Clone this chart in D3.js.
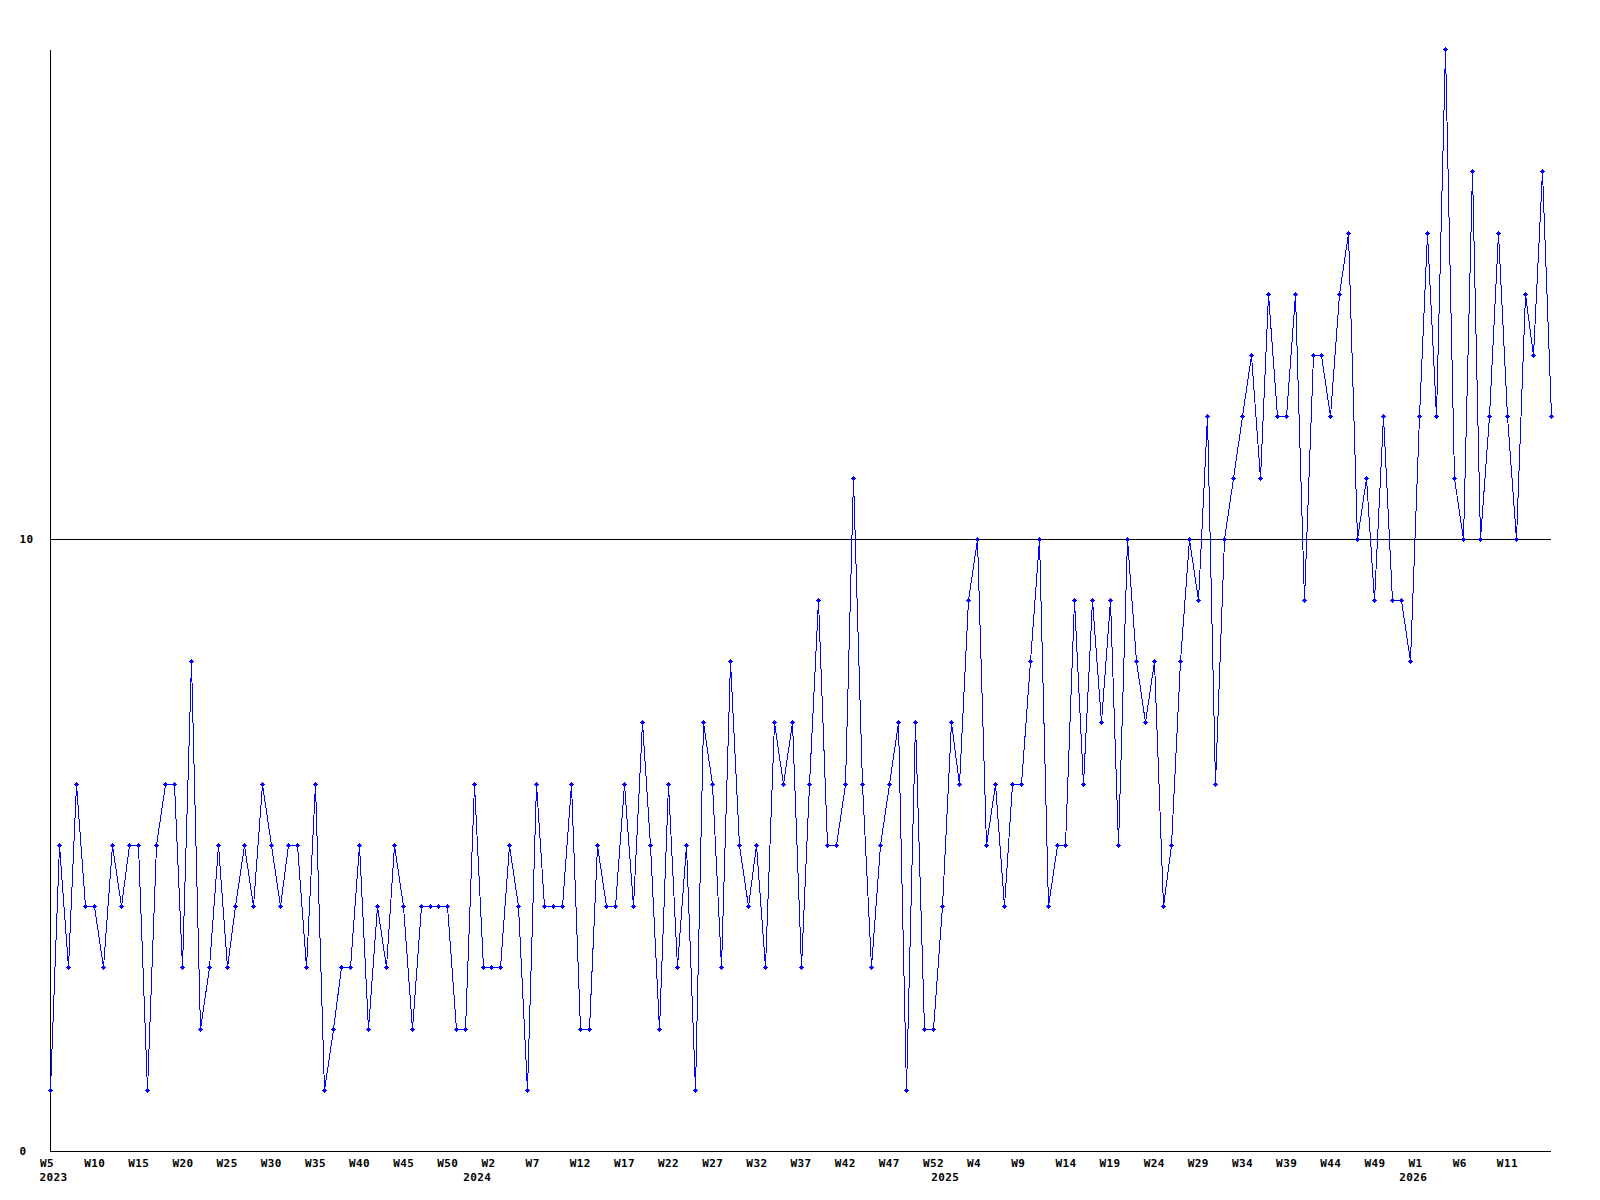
<!DOCTYPE html>
<html>
<head>
<meta charset="utf-8">
<script src="https://cdn.jsdelivr.net/npm/d3@7/dist/d3.min.js"></script>
<style>
  html, body { margin: 0; padding: 0; background: #ffffff; }
  svg { display: block; }
  .lbl { font-family: "DejaVu Sans Mono", "Liberation Mono", monospace; font-weight: bold; font-size: 11px; letter-spacing: 0.4px; fill: #000; }
</style>
</head>
<body>
<svg id="chart" width="1600" height="1200"></svg>
<script>
// ---- data ----
const years      = [2023, 2024, 2025, 2026];
const firstWeeks = [5, 0, 0, 0];
const lastWeeks  = [52, 52, 52, 16];

const values = [
  1, 5, 3, 6, 4, 4, 3, 5, 4, 5,
  5, 1, 5, 6, 6, 3, 8, 2, 3, 5,
  3, 4, 5, 4, 6, 5, 4, 5, 5, 3,
  6, 1, 2, 3, 3, 5, 2, 4, 3, 5,
  4, 2, 4, 4, 4, 4, 2, 2, 6, 3,
  3, 3, 5, 4, 1, 6, 4, 4, 4, 6,
  2, 2, 5, 4, 4, 6, 4, 7, 5, 2,
  6, 3, 5, 1, 7, 6, 3, 8, 5, 4,
  5, 3, 7, 6, 7, 3, 6, 9, 5, 5,
  6, 11, 6, 3, 5, 6, 7, 1, 7, 2,
  2, 4, 7, 6, 9, 10, 5, 6, 4, 6,
  6, 8, 10, 4, 5, 5, 9, 6, 9, 7,
  9, 5, 10, 8, 7, 8, 4, 5, 8, 10,
  9, 12, 6, 10, 11, 12, 13, 11, 14, 12,
  12, 14, 9, 13, 13, 12, 14, 15, 10, 11,
  9, 12, 9, 9, 8, 12, 15, 12, 18, 11,
  10, 16, 10, 12, 15, 12, 10, 14, 13, 16,
  12
];

const yTickValues = [0, 10];
const refLineValue = 10;
const xTickStep = 5;

// categories (year, week) built from the year/week ranges
const categories = [];
years.forEach((yr, i) => {
  for (let w = firstWeeks[i]; w <= lastWeeks[i]; w++) categories.push({ year: yr, week: w });
});

// ---- layout ----
const svg = d3.select("#chart");
const mLeft = 50, mRight = 1551, mTop = 49, mBottom = 1151;

const x = d3.scaleLinear().domain([0, values.length - 1]).range([mLeft, mRight]);
const y = d3.scaleLinear().domain([0, 18]).range([mBottom, mTop]);

// reference line at 10
svg.append("line")
  .attr("x1", mLeft).attr("x2", mRight)
  .attr("y1", Math.round(y(refLineValue)) + 0.5).attr("y2", Math.round(y(refLineValue)) + 0.5)
  .attr("stroke", "#000").attr("stroke-width", 1)
  .attr("shape-rendering", "crispEdges");

// y axis
const yAxis = d3.axisLeft(y).tickValues(yTickValues).tickSize(0).tickFormat(d3.format("d"));
const gy = svg.append("g").attr("transform", `translate(${mLeft + 0.5},0)`).call(yAxis);
gy.attr("font-family", null).attr("font-size", null);
gy.select(".domain").attr("d", `M0,${mTop + 1}V${mBottom}`).attr("stroke", "#000").attr("shape-rendering", "crispEdges");
gy.selectAll("text")
  .attr("class", "lbl")
  .attr("text-anchor", "start")
  .attr("x", -31)
  .attr("dy", "0.36em");

// x axis (every 5th week, last point not labelled)
const tickIdx = d3.range(0, values.length - 1, xTickStep);
const xAxis = d3.axisBottom(x).tickValues(tickIdx).tickSize(0)
  .tickFormat(i => "W" + categories[i].week);
const gx = svg.append("g").attr("transform", `translate(0,${mBottom + 0.5})`).call(xAxis);
gx.attr("font-family", null).attr("font-size", null);
gx.select(".domain").attr("d", `M${mLeft},0H${mRight}`).attr("stroke", "#000").attr("shape-rendering", "crispEdges");
gx.selectAll("text")
  .attr("class", "lbl")
  .attr("text-anchor", "start")
  .attr("x", -10.5)
  .attr("y", 15)
  .attr("dy", null);

// year labels at first week of each year
const yearStart = years.map(yr => categories.findIndex(c => c.year === yr));
svg.append("g").selectAll("text")
  .data(yearStart)
  .join("text")
  .attr("class", "lbl")
  .attr("x", i => x(i) - 10.5)
  .attr("y", mBottom + 30)
  .text(i => categories[i].year);

// line
svg.append("path")
  .datum(values)
  .attr("fill", "none")
  .attr("stroke", "#0000ff")
  .attr("stroke-width", 1)
  .attr("shape-rendering", "crispEdges")
  .attr("d", d3.line().x((d, i) => Math.round(x(i)) + 0.5).y(d => Math.round(y(d)) + 0.5));

// markers
svg.append("g").selectAll("path")
  .data(values)
  .join("path")
  .attr("transform", (d, i) => `translate(${Math.round(x(i))},${Math.round(y(d))})`)
  .attr("d", "M-2,0h5v1h-5z M0,-2h1v5h-1z M-1,-1h3v3h-3z")
  .attr("fill", "#0000ff")
  .attr("shape-rendering", "crispEdges");
</script>
</body>
</html>
